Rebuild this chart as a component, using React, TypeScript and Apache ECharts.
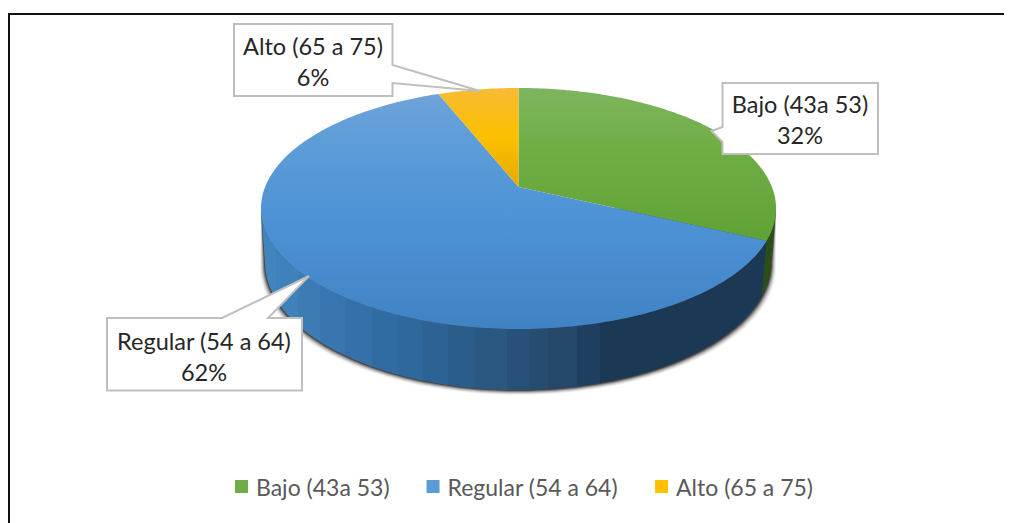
import React, { useEffect, useRef } from "react";
import * as echarts from "echarts";

const categories = ["Bajo (43a 53)", "Regular (54 a 64)", "Alto (65 a 75)"];
const values = [32, 62, 6];
const legendColors = ["#70ad47", "#5b9bd5", "#ffc000"];

const FONT = "Lato, Carlito, 'Open Sans', sans-serif";
const CX = 518.5;
const E = -0.1784;
const P = 83.3;
const Q = 187;
const R = 253.4;
const MID_Y = 208.5;
const DEG = Math.PI / 180;
const VIS_FROM = 100.3;
const VIS_TO = 259.7;

const topPoint = (deg: number) => {
  const s = Math.sin(deg * DEG);
  const v = -Math.cos(deg * DEG);
  const d = 1 + E * v;
  return [CX + (R * s) / d, (P * v + Q) / d];
};
const lowPoint = (deg: number) => {
  const [x, y] = topPoint(deg);
  return [518 + ((x - CX) * 253) / 257.5, 262 + ((y - MID_Y) * 128) / 120.5];
};
const arc = (fn: (d: number) => number[], a: number, b: number) => {
  const pts: number[][] = [];
  const n = Math.max(2, Math.ceil(Math.abs(b - a)));
  for (let i = 0; i <= n; i++) pts.push(fn(a + ((b - a) * i) / n));
  return pts;
};
const vGrad = (stops: [number, string][]) => ({
  type: "linear",
  global: true,
  x: 0,
  y: 88,
  x2: 0,
  y2: 329,
  colorStops: stops.map(([offset, color]) => ({ offset, color })),
});
// Hard-edged vertical bands, as in the faceted wall of the reference.
const bands = (list: [number, string][]) => {
  const stops: { offset: number; color: string }[] = [];
  list.forEach(([x, color], i) => {
    const from = i === 0 ? 262 : list[i - 1][0];
    stops.push({ offset: (from - 262) / 514, color });
    stops.push({ offset: (x - 262) / 514, color });
  });
  return { type: "linear", global: true, x: 262, y: 0, x2: 776, y2: 0, colorStops: stops };
};

const topFills = [
  vGrad([[0, "#7eb55f"], [0.25, "#6fae45"], [0.6, "#62a337"], [1, "#5a9a30"]]),
  vGrad([[0, "#72a4da"], [0.2, "#5f9dd8"], [0.5, "#4e94d6"], [1, "#4083c5"]]),
  vGrad([[0, "#f8bb35"], [0.2, "#fcc000"], [0.42, "#e6a800"], [1, "#e0a000"]]),
];
const wallFills = [
  "#2a4f16",
  bands([
    [276, "#4185bd"], [298, "#3f81ba"], [320, "#3c7bb4"], [345, "#3976af"], [372, "#3570a8"],
    [398, "#306ba1"], [422, "#2e689c"], [448, "#2c6394"], [475, "#2b5d8b"], [507, "#2a5881"],
    [530, "#285179"], [548, "#264c70"], [577, "#254868"], [600, "#1f3f60"], [776, "#1b3854"],
  ]),
  "#8a6a00",
];

const boxes = [
  { rect: [722.5, 83, 878, 154], wedge: [[722.5, 127], [711.5, 131], [722.5, 142]], side: "left", tx: 800, ty: [104, 135] },
  { rect: [107, 318, 302, 390.5], wedge: [[222, 318], [309, 276], [268, 318]], side: "top", tx: 204, ty: [340.5, 371.5] },
  { rect: [234, 24, 392.5, 96], wedge: [[392.5, 65], [480, 91], [392.5, 83]], side: "right", tx: 313, ty: [45.5, 76.5] },
];

const calloutPoints = (b: (typeof boxes)[number]) => {
  const [l, t, r, bt] = b.rect;
  if (b.side === "left") return [[l, t], [r, t], [r, bt], [l, bt], ...[...b.wedge].reverse()];
  if (b.side === "top") return [[l, t], ...b.wedge, [r, t], [r, bt], [l, bt]];
  return [[l, t], [r, t], ...b.wedge, [r, bt], [l, bt]];
};

// Soft shadow hugging the wall: growing outlines of decreasing opacity.
const shadowLayers = [
  { k: 5, opacity: 0.05 },
  { k: 4, opacity: 0.1 },
  { k: 3, opacity: 0.16 },
  { k: 2, opacity: 0.28 },
  { k: 1, opacity: 0.45 },
];
const shadowPoints = (k: number) => [
  topPoint(VIS_FROM),
  ...arc(lowPoint, VIS_FROM, VIS_TO).map(([x, y]) => [518 + (x - 518) * (1 + k / 253), y + k]),
  topPoint(VIS_TO),
];

export default function App() {
  const ref = useRef<HTMLDivElement>(null);
  useEffect(() => {
    const chart = echarts.init(ref.current!, undefined, { renderer: "svg" });
    const total = values.reduce((a, b) => a + b, 0);
    const sliceSeries = categories.map((name, i) => ({
      type: "custom",
      name,
      coordinateSystem: "none",
      z: 3,
      silent: true,
      itemStyle: { color: legendColors[i] },
      data: [values[i]],
      renderItem: (_: any, api: any) => {
        const before = values.slice(0, i).reduce((a, b) => a + b, 0);
        const a0 = (before / total) * 360;
        const a1 = a0 + (api.value(0) / total) * 360;
        const children: any[] = [];
        const wa = Math.max(a0, VIS_FROM);
        const wb = Math.min(a1, VIS_TO);
        if (wb > wa) {
          children.push({
            type: "polygon",
            shape: { points: [...arc(topPoint, wa, wb), ...arc(lowPoint, wb, wa)] },
            style: { fill: wallFills[i] },
          });
        }
        children.push({
          type: "polygon",
          shape: { points: [[CX, Q], ...arc(topPoint, a0, a1)] },
          style: { fill: topFills[i] },
        });
        return { type: "group", children };
      },
    }));
    const option: any = {
      animation: false,
      backgroundColor: "#ffffff",
      legend: {
        data: categories,
        left: 230,
        top: 470,
        icon: "rect",
        itemWidth: 13,
        itemHeight: 13,
        itemGap: 37,
        selectedMode: false,
        textStyle: { fontFamily: FONT, fontSize: 23, color: "#595959", padding: [0, 0, 0, 3] },
      },
      graphic: [
        { type: "line", shape: { x1: 8, y1: 14, x2: 1004, y2: 14 }, style: { stroke: "#111", lineWidth: 2 } },
        { type: "line", shape: { x1: 9, y1: 14, x2: 9, y2: 523 }, style: { stroke: "#111", lineWidth: 2 } },
      ],
      series: [
        {
          type: "custom",
          name: "sombra",
          coordinateSystem: "none",
          z: 1,
          silent: true,
          data: [total],
          renderItem: () => ({
            type: "group",
            children: shadowLayers.map((l) => ({
              type: "polygon",
              shape: { points: shadowPoints(l.k) },
              style: { fill: "#000000", opacity: l.opacity },
            })),
          }),
        },
        ...sliceSeries,
        {
          type: "custom",
          name: "etiquetas",
          coordinateSystem: "none",
          z: 6,
          silent: true,
          data: values,
          renderItem: (p: any, api: any) => {
            const i = p.dataIndex;
            const b = boxes[i];
            return {
              type: "group",
              children: [
                {
                  type: "polygon",
                  shape: { points: calloutPoints(b) },
                  style: { fill: "#ffffff", stroke: "#bfbfbf", lineWidth: 2 },
                },
                {
                  type: "text",
                  style: { text: categories[i], x: b.tx, y: b.ty[0], align: "center", verticalAlign: "middle", font: `23.5px ${FONT}`, fill: "#262626" },
                },
                {
                  type: "text",
                  style: { text: `${api.value(0)}%`, x: b.tx, y: b.ty[1], align: "center", verticalAlign: "middle", font: `23.5px ${FONT}`, fill: "#262626" },
                },
              ],
            };
          },
        },
      ],
    };
    chart.setOption(option);
    return () => chart.dispose();
  }, []);
  return <div ref={ref} style={{ position: "fixed", left: 0, top: 0, width: 1017, height: 523 }} />;
}
